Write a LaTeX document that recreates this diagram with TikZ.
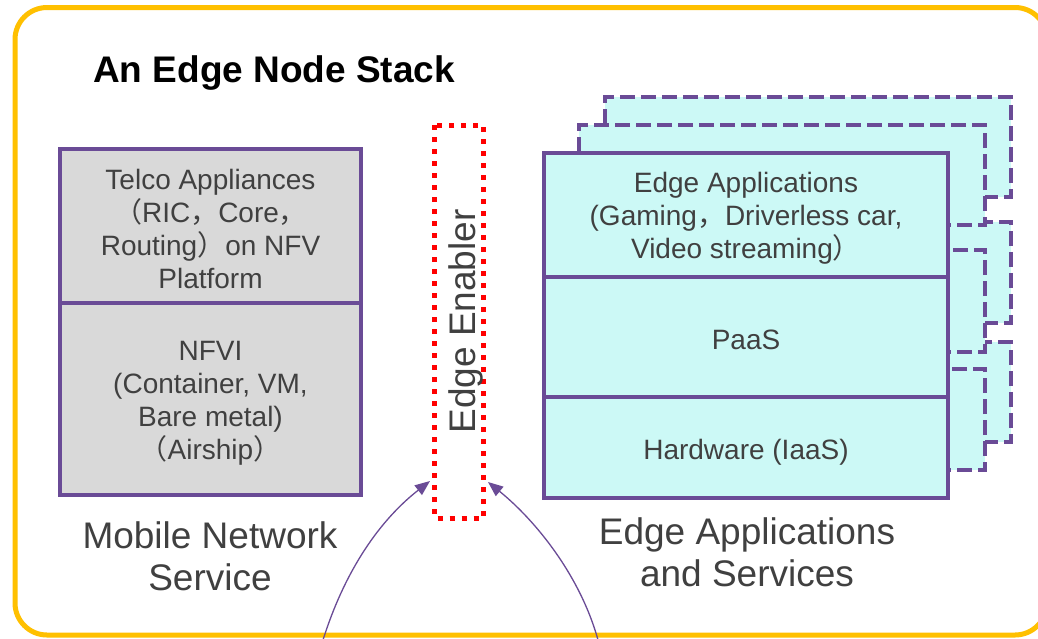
\documentclass[tikz,border=0pt]{standalone}
\usepackage{fontspec}
\setmainfont{Liberation Sans}
\newfontfamily\cjk{Noto Sans CJK SC}
\usetikzlibrary{arrows.meta}
\definecolor{edgepurple}{HTML}{6A4B96}
\definecolor{edgecyan}{HTML}{CCF9F6}
\definecolor{edgegray}{HTML}{D9D9D9}
\definecolor{edgeyellow}{HTML}{FFC000}
\definecolor{edgetext}{HTML}{404040}
\newcommand{\fw}[1]{{\cjk #1}}
\newcommand{\topstrut}[1]{\rule{0pt}{#1}}
\begin{document}
\begin{tikzpicture}[x=1pt,y=-1pt,
  layer/.style={draw=edgepurple, line width=4.5pt, inner sep=0pt, outer sep=0pt, align=center, text=edgetext, font=\fontsize{28}{33}\selectfont},
  graylayer/.style={layer, fill=edgegray, minimum width=301pt},
  cyanlayer/.style={layer, fill=edgecyan, minimum width=404pt},
  ghost/.style={draw=edgepurple, line width=4.5pt, dash pattern=on 15pt off 6pt, fill=edgecyan, inner sep=0pt, outer sep=0pt, minimum width=406pt},
  enablerbox/.style={draw=red, line width=5pt, dash pattern=on 5pt off 7pt, inner sep=0pt, outer sep=0pt, text=edgetext, font=\fontsize{37}{42}\selectfont},
  caption/.style={align=center, text=edgetext, inner sep=0pt, font=\fontsize{37}{42}\selectfont},
  link/.style={draw=edgepurple, line width=1.3pt, -{Triangle[length=15pt,width=12pt]}}
]
\clip (0,0) rectangle (1038,638);
\fill[white] (0,0) rectangle (1038,638);
\draw[edgeyellow, line width=5pt, rounded corners=32pt] (15,7.5) rectangle (1047,635);

\node[anchor=west, inner sep=0pt, font=\fontsize{37}{44}\selectfont\bfseries] (title) at (93,73) {An Edge Node Stack};

% left stack
\node[graylayer, minimum height=154pt] (telco) at (210.5,226) {\topstrut{26pt}Telco Appliances\\\fw{（}RIC\fw{，}Core\fw{，}\\Routing\fw{）}on NFV\\Platform};
\node[graylayer, minimum height=192pt] (nfvi) at (210.5,399) {\topstrut{27pt}NFVI\\(Container, VM,\\Bare metal)\\\fw{（}Airship\fw{）}};
\node[caption] (mns) at (210,556) {Mobile Network\\Service};

% edge enabler
\node[enablerbox, rotate=90, minimum width=393pt, minimum height=48pt] (enabler) at (459,321.5) {\topstrut{41pt}Edge Enabler};

% back copies
\node[ghost, minimum width=406pt, minimum height=100pt] (g2a) at (808,147) {};
\node[ghost, minimum width=406pt, minimum height=101pt] (g2b) at (808,272.5) {};
\node[ghost, minimum width=406pt, minimum height=100pt] (g2c) at (808,392) {};
\node[ghost, minimum width=406pt, minimum height=100pt] (g1a) at (782,175) {};
\node[ghost, minimum width=406pt, minimum height=102pt] (g1b) at (782,301) {};
\node[ghost, minimum width=406pt, minimum height=101pt] (g1c) at (782,419.5) {};

% front stack
\node[cyanlayer, minimum height=124pt] (apps) at (746,215) {\topstrut{27pt}Edge Applications\\(Gaming\fw{，}Driverless car,\\Video streaming\fw{）}};
\node[cyanlayer, minimum height=120pt] (paas) at (746,337) {\topstrut{25pt}PaaS};
\node[cyanlayer, minimum height=101pt] (hw) at (746,447.5) {\topstrut{29pt}Hardware (IaaS)};
\node[caption] (eas) at (747,552) {Edge Applications\\and Services};

% arrows
\coordinate (srcL) at (323,640);
\coordinate (srcR) at (598,640);
\coordinate (tipL) at (430,481);
\coordinate (tipR) at (488,482);
\draw[link] (srcL) .. controls (345,570) and (380,520) .. (tipL);
\draw[link] (srcR) .. controls (580,575) and (535,520) .. (tipR);
\end{tikzpicture}
\end{document}
